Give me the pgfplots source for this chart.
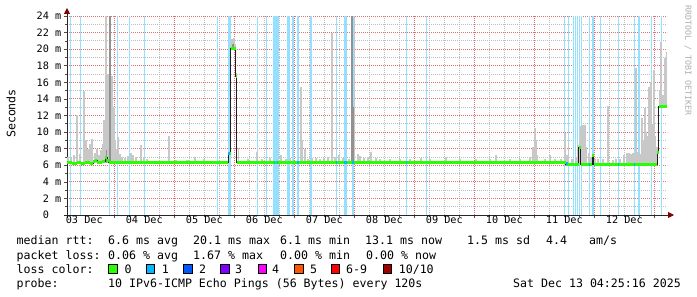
\documentclass[border=0pt]{standalone}
\usepackage{pgfplots}
\pgfplotsset{compat=1.18}
\usepackage{pgfplotstable}
\usepackage{fontspec}
\setmainfont{DejaVu Sans Mono}
\setmonofont{DejaVu Sans Mono}
\newfontfamily\mono{DejaVu Sans Mono}
\usetikzlibrary{arrows.meta}
\newcommand\legfont{\mono\fontsize{11.6bp}{13bp}\selectfont}
\newcommand\axfont{\mono\fontsize{10.2bp}{12bp}\selectfont}
\newcommand\wmfont{\mono\fontsize{8.3bp}{9bp}\selectfont}

\definecolor{mgrid}{RGB}{232,110,110}
\definecolor{mingrid}{RGB}{190,190,190}
\definecolor{lossbg}{RGB}{150,224,255}
\definecolor{loss0}{HTML}{26FF00}
\definecolor{loss1}{HTML}{00B8FF}
\definecolor{loss2}{HTML}{0059FF}
\definecolor{loss3}{HTML}{7E00FF}
\definecolor{loss4}{HTML}{FF00FE}
\definecolor{loss5}{HTML}{FF5500}
\definecolor{loss6}{HTML}{FF0000}
\definecolor{loss10}{HTML}{A10000}
\definecolor{smokeL}{RGB}{200,200,200}
\definecolor{smokeD}{RGB}{145,145,145}
\definecolor{arrowred}{RGB}{128,0,0}
\definecolor{wm}{RGB}{175,175,175}

% median rtt (day of December, ms)
\pgfplotstableread{
d ms
3.212 6.35
3.300 6.25
3.380 6.35
3.450 6.20
3.520 6.30
3.600 6.25
3.650 6.40
3.680 6.60
3.720 6.30
3.790 6.40
3.850 6.90
3.885 6.55
3.910 6.35
4.000 6.30
4.250 6.35
4.600 6.30
5.100 6.35
5.400 6.30
5.900 7.40
5.943 20.10
6.022 16.70
6.037 6.35
7.000 6.35
8.500 6.35
9.500 6.35
11.528 6.15
11.745 8.20
11.778 6.15
11.968 7.20
11.990 6.15
13.053 7.50
13.075 13.10
13.212 13.10
}\median

% light smoke: day, base, top (ms)
\pgfplotstableread{
d b t
3.228 6.3 7.0
3.278 6.3 6.9
3.328 6.3 7.2
3.378 6.3 12.0
3.428 6.3 7.3
3.495 6.3 15.0
3.528 6.3 9.0
3.562 6.3 8.0
3.595 6.3 8.6
3.628 6.3 9.2
3.678 6.3 7.5
3.712 6.3 8.0
3.745 6.3 7.2
3.778 6.3 7.8
3.812 6.3 8.6
3.828 6.3 11.5
3.845 6.3 9.5
3.862 6.3 24.0
3.878 6.3 12.0
3.895 6.3 17.0
3.912 6.3 11.0
3.945 6.3 13.5
3.962 6.3 16.8
3.978 6.3 11.5
3.995 6.3 12.9
4.012 6.3 9.0
4.028 6.3 8.0
4.062 6.3 9.4
4.095 6.3 7.3
4.128 6.3 7.0
4.178 6.3 6.9
4.228 6.3 7.1
4.278 6.3 7.5
4.312 6.3 7.2
4.362 6.3 7.0
4.445 6.3 8.4
4.495 6.3 6.9
4.545 6.3 6.8
4.912 6.3 9.5
5.028 6.3 6.6
5.212 6.3 6.6
5.245 6.3 6.6
5.345 6.3 7.0
5.495 6.3 6.7
5.945 20.1 20.8
5.962 20.1 21.2
5.978 20.1 21.0
5.995 20.1 21.3
6.012 20.1 20.6
6.028 16.7 17.1
6.070 6.35 8.1
6.228 6.35 6.7
6.378 6.35 7.6
6.462 6.35 6.8
6.595 6.35 6.9
6.728 6.35 6.8
6.778 6.35 7.2
6.862 6.35 6.8
6.928 6.35 6.9
7.112 6.35 15.4
7.137 6.35 9.1
7.178 6.35 8.0
7.228 6.35 6.8
7.295 6.35 6.9
7.362 6.35 6.9
7.428 6.35 6.8
7.495 6.35 6.9
7.562 6.35 7.0
7.628 6.35 22.0
7.678 6.35 7.0
7.745 6.35 7.2
7.812 6.35 6.9
7.912 6.35 6.8
8.003 6.35 24.0
8.062 6.35 7.3
8.095 6.35 7.1
8.162 6.35 6.9
8.228 6.35 7.0
8.278 6.35 7.6
8.362 6.35 6.9
8.428 6.35 6.8
8.595 6.35 6.7
8.762 6.35 6.8
8.928 6.35 6.7
9.112 6.35 6.9
9.262 6.35 6.7
9.528 6.35 7.0
9.762 6.35 6.7
10.028 6.35 6.8
10.262 6.35 6.7
10.362 6.35 7.2
10.595 6.35 6.7
10.762 6.35 6.8
10.928 6.35 7.0
10.978 6.35 8.2
11.012 6.35 10.5
11.028 6.35 9.0
11.045 6.35 7.2
11.178 6.35 6.7
11.262 6.35 7.2
11.345 6.35 6.7
11.445 6.35 6.8
11.512 6.35 9.9
11.545 6.15 7.2
11.570 6.15 8.7
11.628 6.15 6.8
11.695 6.15 7.0
11.728 6.15 8.5
11.762 6.15 9.0
11.778 6.15 10.7
11.812 6.15 10.8
11.828 6.15 10.7
11.845 6.15 10.8
11.862 6.15 8.2
11.912 6.15 7.5
11.945 6.15 7.0
12.012 6.15 6.8
12.062 6.15 6.7
12.145 6.15 6.8
12.228 6.15 13.1
12.312 6.15 6.6
12.362 6.15 6.8
12.428 6.15 6.7
12.495 6.15 7.2
12.545 6.15 7.5
12.578 6.15 7.5
12.612 6.15 7.3
12.645 6.15 7.5
12.678 6.15 7.4
12.695 6.15 17.7
12.728 6.15 7.6
12.762 6.15 7.4
12.795 6.15 11.7
12.812 6.15 9.0
12.845 6.15 12.9
12.862 6.15 10.0
12.878 6.15 9.5
12.912 6.15 15.4
12.928 6.15 10.5
12.945 6.15 16.1
12.962 6.15 11.0
12.978 6.15 10.0
12.995 6.15 17.5
13.012 6.15 9.5
13.045 6.15 8.2
13.095 13.1 15.0
13.112 13.1 20.9
13.145 13.1 14.5
13.178 13.1 18.9
13.203 13.1 19.7
}\smokelight

% dark smoke core
\pgfplotstableread{
d b t
3.870 6.3 7.8
3.920 6.3 9.5
3.928 6.3 24.0
5.978 20.1 20.6
7.962 6.35 24.0
7.978 6.35 13.0
}\smokedark

% loss background bars (day of December)
\pgfplotstableread{
d v
3.267 24
3.433 24
3.917 24
4.050 24
4.250 24
4.500 24
5.720 24
6.383 24
6.533 24
6.975 24
7.058 24
7.278 24
7.700 24
7.977 24
8.867 24
9.203 24
11.500 24
11.567 24
11.653 24
11.687 24
11.720 24
11.757 24
11.783 24
11.920 24
11.978 24
12.100 24
12.400 24
12.667 24
12.742 24
12.950 24
13.117 24
}\lossthin

\pgfplotstableread{
d v
5.912 24
6.670 24
6.720 24
6.900 24
7.857 24
}\losswide

\begin{document}
\begin{tikzpicture}
\useasboundingbox (0,0) rectangle (697bp,297bp);
\fill[white] (0,0) rectangle (697bp,297bp);
\begin{axis}[
  at={(67bp,82bp)}, anchor=south west,
  scale only axis, width=600bp, height=199bp,
  xmin=3.212, xmax=13.212, ymin=0, ymax=24,
  axis lines=left,
  axis line style={line width=0.9bp, black!85},
  x axis line style={-{Triangle[length=6bp,width=6bp,color=arrowred]}, shorten >=-7bp, shorten <=-3bp},
  y axis line style={-{Triangle[length=6bp,width=6bp,color=arrowred]}, shorten >=-8bp, shorten <=-3bp},
  xtick={4,...,13}, xticklabels={},
  minor x tick num=3,
  extra x ticks={3.5,4.5,5.5,6.5,7.5,8.5,9.5,10.5,11.5,12.5},
  extra x tick labels={03 Dec,04 Dec,05 Dec,06 Dec,07 Dec,08 Dec,09 Dec,10 Dec,11 Dec,12 Dec},
  extra x tick style={grid=none, major tick length=0pt},
  ytick={0,2,...,24},
  yticklabels={{0\hphantom{xx}},{2 m},{4 m},{6 m},{8 m},{10 m},{12 m},{14 m},{16 m},{18 m},{20 m},{22 m},{24 m}},
  minor y tick num=1,
  grid=both,
  major grid style={draw=mgrid, dash pattern=on 1bp off 1bp, line width=0.9bp},
  minor grid style={draw=mingrid, dash pattern=on 1bp off 1bp, line width=0.8bp},
  tick align=outside, major tick length=3bp, minor tick length=2bp,
  tick style={black!70, line width=0.6bp},
  xticklabel style={font=\axfont, inner sep=0pt, anchor=north, yshift=-1bp},
  yticklabel style={font=\axfont, inner sep=0pt, anchor=east, xshift=-2.5bp},
]
% loss background
\addplot[ycomb, draw=lossbg, line width=1.5bp, mark=none] table[x=d, y=v] {\lossthin};
\addplot[ycomb, draw=lossbg, line width=3bp, mark=none] table[x=d, y=v] {\losswide};
% smoke
\addplot[draw=none, mark=none, error bars/.cd, y dir=plus, y explicit, error mark=none,
  error bar style={draw=smokeL, line width=1.2bp, solid}]
  table[x=d, y=b, y error plus expr=\thisrow{t}-\thisrow{b}] {\smokelight};
\addplot[draw=none, mark=none, error bars/.cd, y dir=plus, y explicit, error mark=none,
  error bar style={draw=smokeD, line width=1.2bp, solid}]
  table[x=d, y=b, y error plus expr=\thisrow{t}-\thisrow{b}] {\smokedark};
% median line
\addplot[const plot, draw=black!88, line width=1bp, mark=none] table[x=d, y=ms] {\median};
\addplot[jump mark left, draw=loss0, line width=3bp, mark=none] table[x=d, y=ms] {\median};
% loss-1 colored median pieces
\addplot[draw=loss1, line width=3bp, mark=none, unbounded coords=jump] coordinates {
(5.900,7.4) (5.935,7.4) (5.935,nan)
(6.657,6.35) (6.683,6.35) (6.683,nan)
(6.707,6.35) (6.733,6.35) (6.733,nan)
(7.045,6.35) (7.071,6.35) (7.071,nan)
(7.687,6.35) (7.713,6.35) (7.713,nan)
(7.835,6.35) (7.879,6.35) (7.879,nan)
(7.964,6.35) (7.990,6.35) (7.990,nan)
(8.854,6.35) (8.880,6.35) (8.880,nan)
(11.528,6.25) (11.560,6.25) (11.560,nan)
(11.907,6.15) (11.933,6.15) (11.933,nan)
(12.387,6.15) (12.413,6.15) (12.413,nan)
(12.654,6.15) (12.680,6.15) (12.680,nan)
};
\end{axis}

% unit label and watermark
\node[font=\legfont, rotate=90, inner sep=0pt] at (11bp,183.5bp) {Seconds};
\node[font=\wmfont, text=wm, rotate=-90, anchor=west, inner sep=0pt] at (688bp,292bp) {RRDTOOL / TOBI OETIKER};

% legend lines
\begin{scope}[every node/.style={font=\legfont, anchor=base west, inner sep=0pt}]
\node at (16.5bp,52bp) {median rtt:};
\node at (108bp,52bp) {6.6 ms avg};
\node at (193bp,52bp) {20.1 ms max};
\node at (280bp,52bp) {6.1 ms min};
\node at (365bp,52bp) {13.1 ms now};
\node at (467bp,52bp) {1.5 ms sd};
\node at (546bp,52bp) {4.4};
\node at (589bp,52bp) {am/s};

\node at (16.5bp,38bp) {packet loss:};
\node at (108bp,38bp) {0.06 \% avg};
\node at (193bp,38bp) {1.67 \% max};
\node at (280bp,38bp) {0.00 \% min};
\node at (366bp,38bp) {0.00 \% now};

\node at (16.5bp,24bp) {loss color:};
\node at (124.5bp,24bp) {0};
\node at (161.6bp,24bp) {1};
\node at (199bp,24bp) {2};
\node at (235bp,24bp) {3};
\node at (272bp,24bp) {4};
\node at (310bp,24bp) {5};
\node at (346bp,24bp) {6-9};
\node at (398.6bp,24bp) {10/10};

\node at (16.5bp,10bp) {probe:};
\node at (108bp,10bp) {10 IPv6-ICMP Echo Pings (56 Bytes) every 120s};
\node[anchor=base east] at (681bp,10bp) {Sat Dec 13 04:25:16 2025};
\end{scope}
\begin{scope}[line width=0.8bp, draw=black]
\filldraw[fill=loss0] (108.5bp,24bp) rectangle (117bp,32.5bp);
\filldraw[fill=loss1] (146bp,24bp) rectangle (154.5bp,32.5bp);
\filldraw[fill=loss2] (183.5bp,24bp) rectangle (192bp,32.5bp);
\filldraw[fill=loss3] (220.5bp,24bp) rectangle (229bp,32.5bp);
\filldraw[fill=loss4] (258bp,24bp) rectangle (266.5bp,32.5bp);
\filldraw[fill=loss5] (294.6bp,24bp) rectangle (303.1bp,32.5bp);
\filldraw[fill=loss6] (331bp,24bp) rectangle (339.5bp,32.5bp);
\filldraw[fill=loss10] (383bp,24bp) rectangle (391.5bp,32.5bp);
\end{scope}
\end{tikzpicture}
\end{document}
